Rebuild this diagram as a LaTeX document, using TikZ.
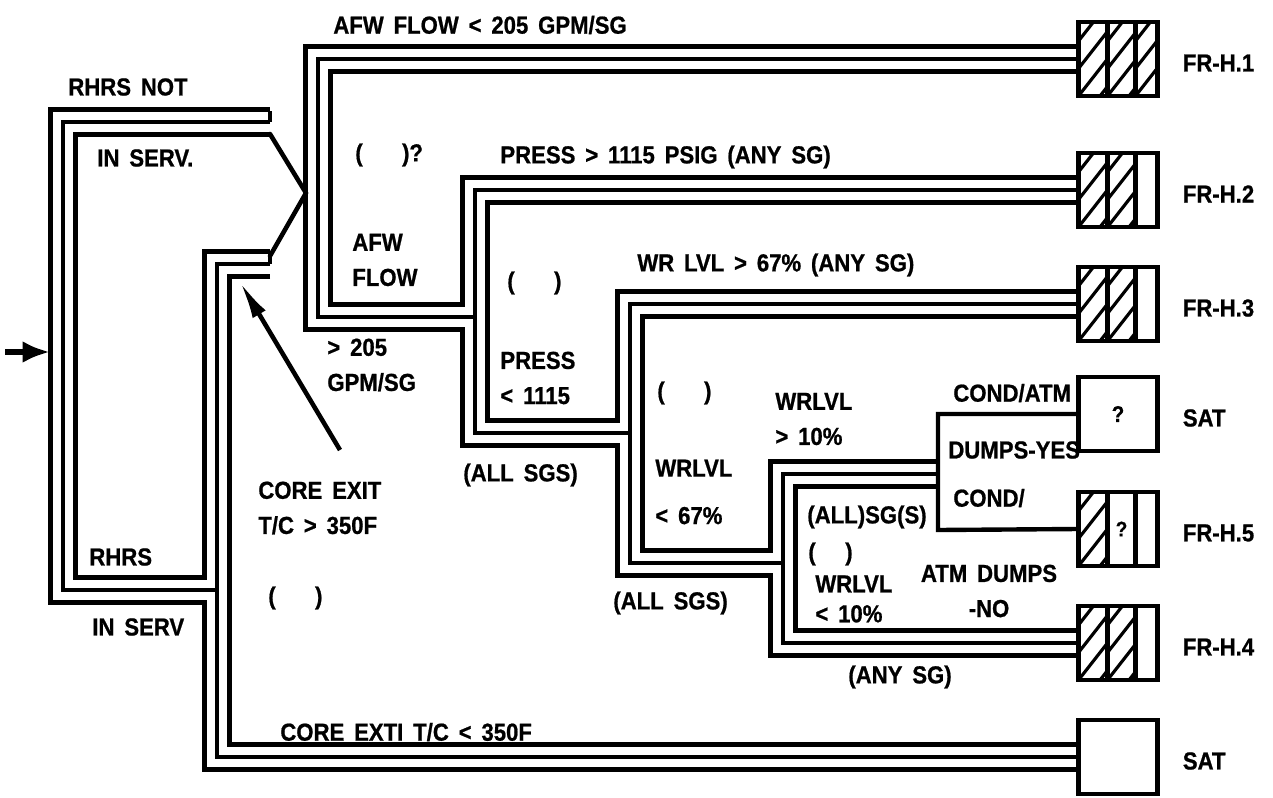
\documentclass[tikz,border=0pt]{standalone}
\usepackage{fontspec}
\setmainfont{Liberation Sans}[FakeStretch=0.9,WordSpace=1.6,BoldFeatures={FakeBold=0.8}]
\usetikzlibrary{arrows.meta,positioning,backgrounds}

\tikzset{
  pipe/.style={draw,line width=17pt,line join=miter,
    postaction={draw=white,line width=11.5pt},
    postaction={draw=black,line width=2.5pt}},
  wire/.style={line width=2.5pt,line join=miter},
  arm/.style={line width=2.6pt,line cap=round},
  entry/.style={line width=3.4pt,-{Latex[length=5.5mm,width=4.4mm]}},
  pointer/.style={line width=2.6pt,-{Latex[length=7.5mm,width=3mm]}},
  lbl/.style={anchor=west,inner sep=0pt,align=left,font=\fontsize{14}{20}\selectfont\bfseries},
  endbox/.style={draw,line width=2.5pt,minimum width=1.58cm,minimum height=1.48cm,inner sep=0pt,outer sep=0pt,font=\fontsize{13}{15}\selectfont\bfseries},
  frlbl/.style={lbl,right=0.5cm of #1,yshift=-0.08cm},
  hatchline/.style={line width=1.8pt},
}

% column dividers of an end box
\newcommand{\frcols}[1]{%
  \draw[wire] ([xshift=0.58cm]#1.north west) -- ([xshift=0.58cm]#1.south west);
  \draw[wire] ([xshift=1.14cm]#1.north west) -- ([xshift=1.14cm]#1.south west);}
% hatch one column: box, left offset, width
\newcommand{\hatchcol}[3]{%
  \begin{scope}
    \clip ([xshift=#2]#1.south west) rectangle ([xshift=#2+#3]#1.north west);
    \foreach \k in {-2,...,3}
      \draw[hatchline] ([xshift=#2,yshift=\k*0.55cm]#1.south west) -- ++(0.9cm,1.15cm);
  \end{scope}}

\begin{document}
\begin{tikzpicture}[x=0.02cm,y=-0.02cm,>=Latex]
\useasboundingbox (0,0) rectangle (1273,797);

% junctions
\coordinate (rnot) at (270,122);
\coordinate (rin) at (270,264);
\coordinate (trk) at (63,590);
\coordinate (t1) at (217,590);
\coordinate (afw) at (318,317);
\coordinate (t2) at (475,317);
\coordinate (t3) at (630,433);
\coordinate (t4) at (783,563);
\coordinate (decin) at (938,474);
\coordinate (dec) at (938,530);
\coordinate (apex) at (306,193);
\coordinate (src) at (5,352);
\coordinate (inlet) at (50,352);
\coordinate (cetail) at (340,450);
\coordinate (cetip) at (240,282);

% end boxes
\node[endbox] (fr1) at (1118,59) {};
\node[endbox] (fr2) at (1118,190) {};
\node[endbox] (fr3) at (1118,304) {};
\node[endbox] (sat1) at (1118,414) {?};
\node[endbox] (fr5) at (1118,529) {};
\node[endbox] (fr4) at (1118,643) {};
\node[endbox] (sat2) at (1118,757) {};

\hatchcol{fr1}{0cm}{0.58cm}\hatchcol{fr1}{0.58cm}{0.56cm}\hatchcol{fr1}{1.14cm}{0.44cm}
\hatchcol{fr2}{0cm}{0.58cm}\hatchcol{fr2}{0.58cm}{0.56cm}
\hatchcol{fr3}{0cm}{0.58cm}\hatchcol{fr3}{0.58cm}{0.56cm}
\hatchcol{fr5}{0cm}{0.58cm}
\hatchcol{fr4}{0cm}{0.58cm}\hatchcol{fr4}{0.58cm}{0.56cm}
\frcols{fr1}\frcols{fr2}\frcols{fr3}\frcols{fr5}\frcols{fr4}
\node[font=\fontsize{12}{14}\selectfont\bfseries] (q5) at ([xshift=0.86cm]fr5.west) {?};

\node[frlbl=fr1] (fr1lbl) {FR-H.1};
\node[frlbl=fr2] (fr2lbl) {FR-H.2};
\node[frlbl=fr3] (fr3lbl) {FR-H.3};
\node[frlbl=sat1] (sat1lbl) {SAT};
\node[frlbl=fr5] (fr5lbl) {FR-H.5};
\node[frlbl=fr4] (fr4lbl) {FR-H.4};
\node[frlbl=sat2] (sat2lbl) {SAT};

% triple-line paths
\begin{scope}[on background layer]
\draw[pipe] (rnot) -| (trk) -- (t1)
  (rin) -| (t1) |- (sat2.west)
  (fr1.west) -| (afw) -- (t2)
  (fr2.west) -| (t2) |- (t3)
  (fr3.west) -| (t3) |- (t4)
  (decin) -| (t4) |- (fr4.west);
\end{scope}
\draw[wire] (sat1.west) -| (dec) -- (fr5.west);
\draw[wire] (rnot) -- ++(0,-11);
\draw[wire] (rin) -- ++(0,-12);
\draw[arm] ([yshift=-0.24cm]rnot) -- (apex);
\draw[arm] ([yshift=0.16cm]rin) -- (apex);
\draw[entry] (src) -- (inlet);
\draw[pointer] (cetail) -- (cetip);

% labels
\node[lbl] (rhrsnot) at (68,87) {RHRS NOT};
\node[lbl] (inserv1) at (97,158) {IN SERV.};
\node[lbl] (rhrs) at (89,557) {RHRS};
\node[lbl] (inserv2) at (92,627) {IN SERV};
\node[lbl] (afwlo) at (333,25) {AFW FLOW < 205 GPM/SG};
\node[lbl] (qafw) at (355,155) {(\hspace{1.6em})?};
\node[lbl] (presshi) at (500,157) {PRESS > 1115 PSIG (ANY SG)};
\node[lbl] (afwflow) at (352,260) {AFW\\FLOW};
\node[lbl] (afwhi) at (327,365) {> 205\\GPM/SG};
\node[lbl] (qpress) at (507,283) {(\hspace{1.6em})};
\node[lbl] (presslo) at (500,378) {PRESS\\< 1115};
\node[lbl] (allsgs1) at (463,475) {(ALL SGS)};
\node[lbl] (wrhi) at (637,265) {WR LVL > 67\% (ANY SG)};
\node[lbl] (qwr) at (657,393) {(\hspace{1.6em})};
\node[lbl] (wrmid) at (655,492) {WRLVL\\[7pt]< 67\%};
\node[lbl] (wrten) at (775,419) {WRLVL\\> 10\%};
\node[lbl] (allsgs2) at (613,603) {(ALL SGS)};
\node[lbl] (allsg) at (807,517) {(ALL)SG(S)};
\node[lbl] (qlow) at (808,554) {(\hspace{1.2em})};
\node[lbl] (wrlo) at (815,599) {WRLVL\\[-3pt]< 10\%};
\node[lbl] (condyes) at (953,393) {COND/ATM};
\node[lbl] (dyes) at (948,450) {DUMPS-YES};
\node[lbl] (condno) at (953,498) {COND/};
\node[lbl,anchor=center,align=center] (dno) at (989,591) {ATM DUMPS\\-NO};
\node[lbl] (anysg) at (848,677) {(ANY SG)};
\node[lbl] (coreex) at (258,508) {CORE EXIT\\T/C > 350F};
\node[lbl] (qcore) at (268,598) {(\hspace{1.6em})};
\node[lbl] (corelo) at (280,732) {CORE EXTI T/C < 350F};
\end{tikzpicture}
\end{document}
